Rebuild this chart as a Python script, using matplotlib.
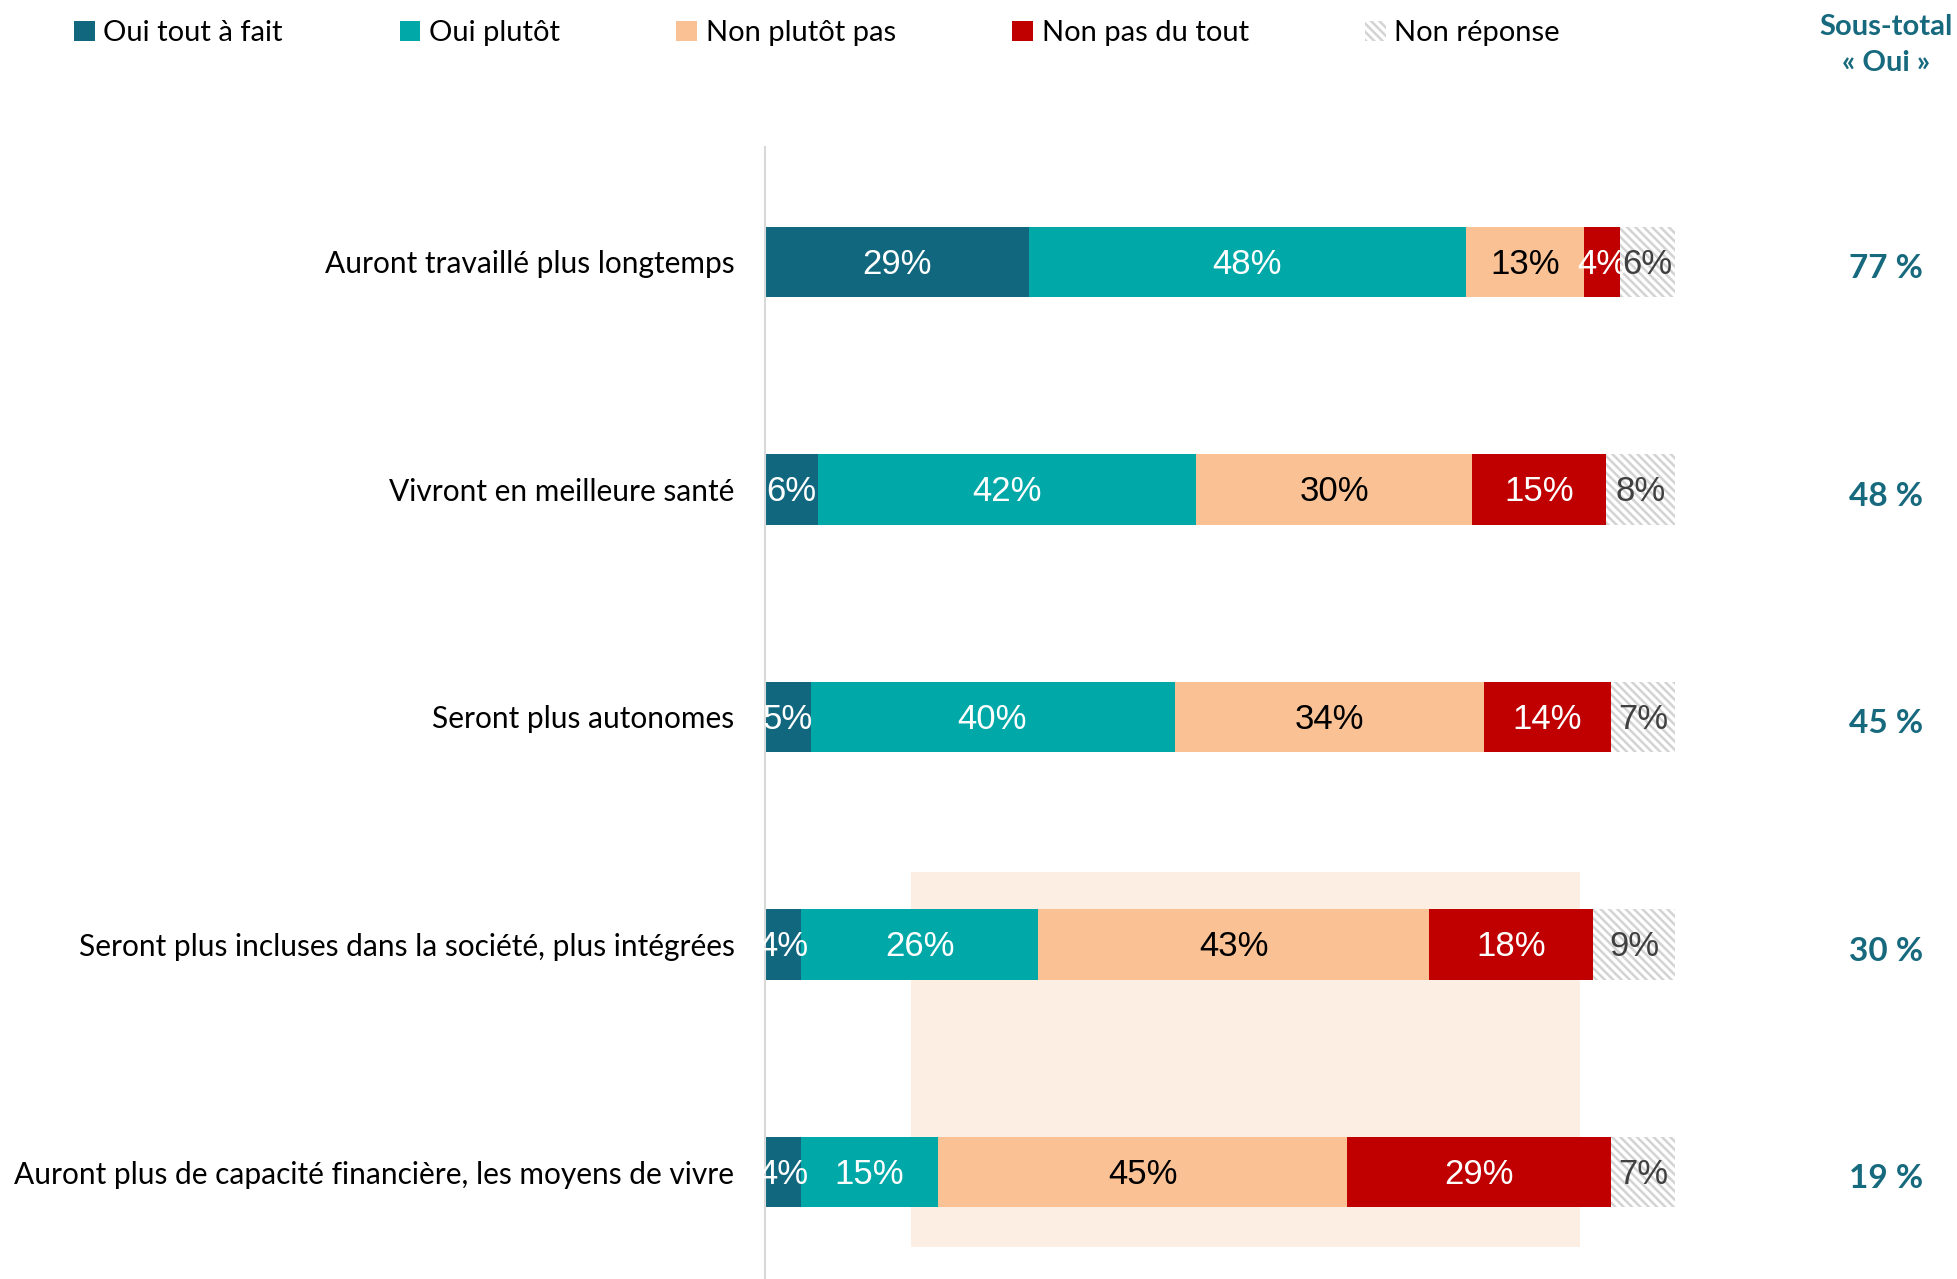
import numpy as np
import matplotlib
matplotlib.use("Agg")
import matplotlib.pyplot as plt
from matplotlib.patches import Patch, Rectangle
from matplotlib.transforms import blended_transform_factory

categories = [
    "Auront travaillé plus longtemps",
    "Vivront en meilleure santé",
    "Seront plus autonomes",
    "Seront plus incluses dans la société, plus intégrées",
    "Auront plus de capacité financière, les moyens de vivre",
]
series_names = ["Oui tout à fait", "Oui plutôt", "Non plutôt pas", "Non pas du tout", "Non réponse"]
oui_tout = [29, 5.8, 5, 4, 4]
oui_plutot = [48, 41.6, 40, 26, 15]
non_plutot = [13, 30.3, 34, 43, 45]
non_pas = [4, 14.7, 14, 18, 29]
non_rep = [6, 7.6, 7, 9, 7]
subtotals = ["77 %", "48 %", "45 %", "30 %", "19 %"]

colors = ["#11677E", "#00A9A8", "#F9C194", "#C00000", "white"]
label_colors = ["white", "white", "black", "white", "#404040"]
teal_text = "#17697E"
hatch_gray = "#D3D3D3"

plt.rcParams["hatch.linewidth"] = 1.8

fig = plt.figure(figsize=(19.57, 12.79), dpi=100)
ax = fig.add_axes([765 / 1957, 0, 910 / 1957, 1132 / 1279])

series = [oui_tout, oui_plutot, non_plutot, non_pas, non_rep]
y = np.arange(len(categories))

# highlighted zone behind the two last bars
ax.add_patch(Rectangle((16, 2.68), 73.6, 1.65, facecolor="#FDEEE3", edgecolor="none", zorder=0))

left = np.zeros(len(categories))
for i, vals in enumerate(series):
    vals = np.array(vals)
    if i == 4:
        ax.barh(y, vals, left=left, height=0.31, facecolor="white",
                edgecolor=hatch_gray, hatch="\\\\\\\\", linewidth=0, zorder=2)
    else:
        ax.barh(y, vals, left=left, height=0.31, color=colors[i], linewidth=0, zorder=2)
    for j, v in enumerate(vals):
        ax.text(left[j] + v / 2, y[j] + 0.01, f"{round(v):d}%", ha="center", va="center",
                color=label_colors[i], fontsize=25, family="Liberation Sans", zorder=3)
    left += vals

ax.set_xlim(0, 100)
ax.set_ylim(4.47, -0.505)
ax.set_yticks(y)
ax.set_yticklabels(categories, fontsize=21.5, family="Lato")
ax.tick_params(axis="y", length=0, pad=22)
ax.set_xticks([])
for s in ["top", "right", "bottom"]:
    ax.spines[s].set_visible(False)
ax.spines["left"].set_color("#D9D9D9")
ax.spines["left"].set_linewidth(1.5)
ax.set_facecolor("none")

# sous-total column
trans = blended_transform_factory(fig.transFigure, ax.transData)
for j, txt in enumerate(subtotals):
    ax.text(1886 / 1957, y[j] + 0.03, txt, transform=trans, ha="center", va="center",
            fontsize=24, fontweight="bold", color=teal_text, family="Lato")
fig.text(1886 / 1957, 1 - 27 / 1279, "Sous-total", ha="center", va="center",
         fontsize=21, fontweight="bold", color=teal_text, family="Lato")
fig.text(1886 / 1957, 1 - 63 / 1279, "« Oui »", ha="center", va="center",
         fontsize=21, fontweight="bold", color=teal_text, family="Lato")

handles = [Patch(facecolor=c, edgecolor="none") for c in colors[:4]]
handles.append(Patch(facecolor="white", edgecolor=hatch_gray, hatch="\\\\\\\\", linewidth=0))
fig.legend(handles, series_names, loc="upper left", bbox_to_anchor=(48 / 1957, 1 + 6 / 1279),
           ncol=5, frameon=False, prop={"family": "Lato", "size": 21},
           handlelength=0.7, handleheight=0.7, handletextpad=0.3, columnspacing=4.0)

fig.savefig("out.png", dpi=100)
